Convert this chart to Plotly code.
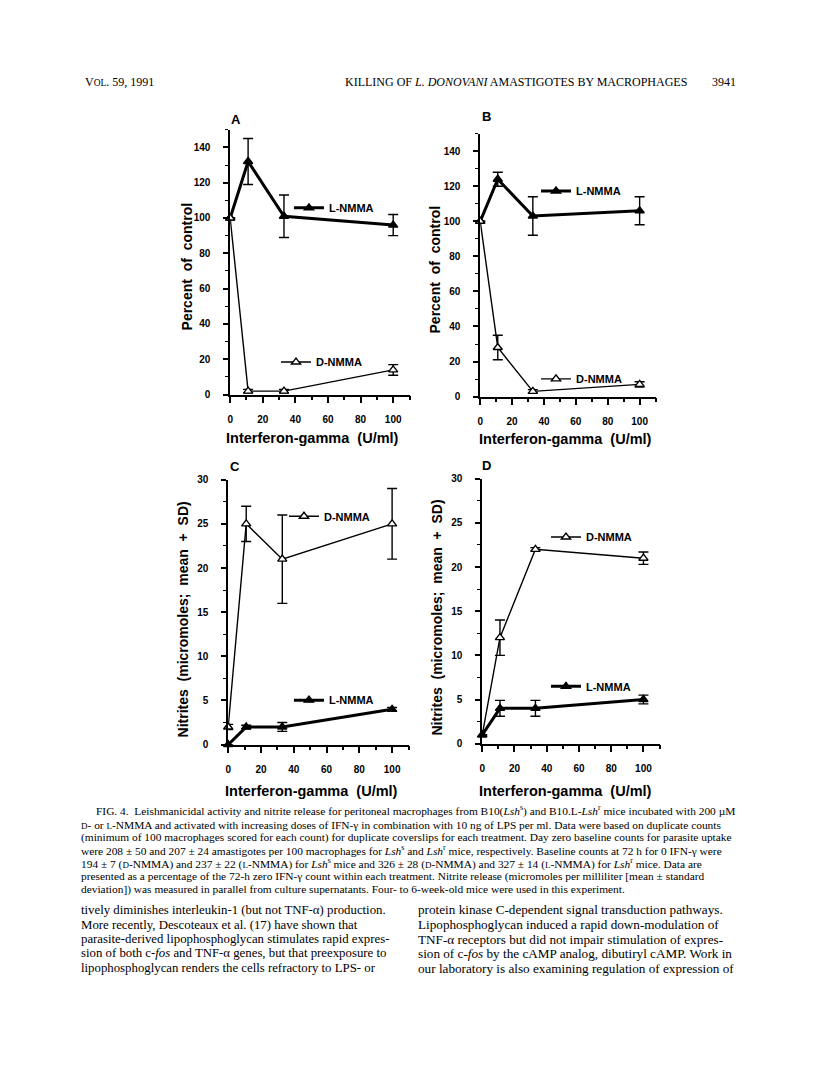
import plotly.graph_objects as go

# the page body has an 8px margin: draw a figure 16px smaller and shift coordinates
PAGE_W, PAGE_H = 816, 1079
OFF = 8
W, H = PAGE_W - 2 * OFF, PAGE_H - 2 * OFF

# ---------------- data ----------------
ifn_dose = [0, 11, 33, 100]

a_lnmma = [100, 132, 101, 96]
a_lnmma_sd = [0, 13, 12, 6]
a_dnmma = [100, 2, 2, 14]
a_dnmma_sd = [0, 1, 1, 3]

b_lnmma = [100, 124, 103, 106]
b_lnmma_sd = [0, 4, 11, 8]
b_dnmma = [100, 28, 3, 7]
b_dnmma_sd = [0, 7, 1, 1.5]

c_dnmma = [2, 25, 21, 25]
c_dnmma_sd = [0.3, 2, 5, 4]
c_lnmma = [0, 2, 2, 4]
c_lnmma_sd = [0, 0.2, 0.5, 0.2]

d_dnmma = [1, 12, 22, 21]
d_dnmma_sd = [0, 2, 0.2, 0.7]
d_lnmma = [1, 4, 4, 5]
d_lnmma_sd = [0, 0.9, 0.9, 0.5]

x_ticks = [0, 20, 40, 60, 80, 100]
pct_ticks = [0, 20, 40, 60, 80, 100, 120, 140]
nit_ticks = [0, 5, 10, 15, 20, 25, 30]

panel_letters = ["A", "B", "C", "D"]
y_title_pct = "Percent  of  control"
y_title_nit = "Nitrites  (micromoles;  mean  +  SD)"
x_title = "Interferon-gamma  (U/ml)"

# ---------------- helpers ----------------
def fx(p):
    return (p - OFF) / W


def fy(p):
    return 1 - (p - OFF) / H


BOLD = dict(family="Liberation Sans, Arial, sans-serif", color="black", weight="bold")
SERIF = "Liberation Serif, Times New Roman, serif"

fig = go.Figure()


def add_series(xa, ya, yvals, sd, name, filled, legend):
    fig.add_trace(go.Scatter(
        x=ifn_dose, y=yvals, name=name, xaxis=xa, yaxis=ya,
        mode="lines+markers", legend=legend, showlegend=True,
        line=dict(color="black", width=3 if filled else 1.4),
        marker=dict(symbol="triangle-up", size=8,
                    color="black" if filled else "white",
                    line=dict(color="black", width=1.4)),
        error_y=dict(type="data", array=sd, visible=True, color="black",
                     thickness=1.4, width=5),
        cliponaxis=False,
    ))


add_series("x", "y", a_lnmma, a_lnmma_sd, "L-NMMA", True, "legend")
add_series("x", "y", a_dnmma, a_dnmma_sd, "D-NMMA", False, "legend2")
add_series("x2", "y2", b_lnmma, b_lnmma_sd, "L-NMMA", True, "legend3")
add_series("x2", "y2", b_dnmma, b_dnmma_sd, "D-NMMA", False, "legend4")
add_series("x3", "y3", c_dnmma, c_dnmma_sd, "D-NMMA", False, "legend5")
add_series("x3", "y3", c_lnmma, c_lnmma_sd, "L-NMMA", True, "legend6")
add_series("x4", "y4", d_dnmma, d_dnmma_sd, "D-NMMA", False, "legend7")
add_series("x4", "y4", d_lnmma, d_lnmma_sd, "L-NMMA", True, "legend8")

tickfont = dict(BOLD, size=10)


def xaxis_cfg(l, r, anchor):
    return dict(domain=[fx(l), fx(r)], range=[0, 110], anchor=anchor,
                showline=True, linecolor="black", linewidth=1.6,
                showgrid=False, zeroline=False,
                tickmode="array", tickvals=x_ticks, ticks="outside",
                ticklen=7, tickwidth=1.5, tickcolor="black",
                minor=dict(tickmode="linear", tick0=10, dtick=20, ticks="outside",
                           ticklen=4, tickwidth=1.5, tickcolor="black",
                           showgrid=False),
                tickfont=tickfont, ticklabelstandoff=8)


def yaxis_cfg(top, bot, anchor, rng, vals, minor_dt):
    return dict(domain=[fy(bot), fy(top)], range=rng, anchor=anchor,
                showline=True, linecolor="black", linewidth=1.6,
                showgrid=False, zeroline=False,
                tickmode="array", tickvals=vals, ticks="outside",
                ticklen=5, tickwidth=1.5, tickcolor="black",
                minor=dict(tickmode="linear", tick0=0, dtick=minor_dt, ticks="outside",
                           ticklen=3, tickwidth=1.3, tickcolor="black",
                           showgrid=False),
                tickfont=tickfont, ticklabelstandoff=11)


legend_common = dict(bgcolor="rgba(0,0,0,0)", borderwidth=0,
                     font=dict(BOLD, size=11), itemwidth=30,
                     xanchor="left", yanchor="middle", tracegroupgap=0)

# legend placement (text-start px, line y px)
legend_pos = {
    "legend": (327, 204),
    "legend2": (314, 360),
    "legend3": (575, 187),
    "legend4": (575, 377),
    "legend5": (322, 516),
    "legend6": (327, 702),
    "legend7": (585, 537),
    "legend8": (585, 688),
}
legends = {k: dict(legend_common, x=fx(v[0] - 40), y=fy(v[1])) for k, v in legend_pos.items()}

annotations = []


def ann(text, x, y, size, font=None, xanchor="center", angle=0, yanchor="middle"):
    f = dict(font or BOLD)
    f["size"] = size
    annotations.append(dict(text=text, x=fx(x), y=fy(y), xref="paper", yref="paper",
                            showarrow=False, xanchor=xanchor, yanchor=yanchor,
                            textangle=angle, font=f))


# panel letters
for letter, (lx, ly) in zip(panel_letters, [(234, 115), (485, 112), (233, 466), (485, 465)]):
    ann(letter, lx, ly, 13)

# axis titles
ann(y_title_pct, 185, 263, 14, angle=-90)
ann(y_title_pct, 434, 266, 14, angle=-90)
ann(y_title_nit, 181, 620, 14, angle=-90)
ann(y_title_nit, 436, 618, 14, angle=-90)
ann(x_title, 311, 437, 14.5)
ann(x_title, 565, 438, 14.5)
ann(x_title, 310, 794, 14.5)
ann(x_title, 565, 794, 14.5)

# page header
SER = dict(family=SERIF, color="black")
ann("V<span style='font-size:9.5px'>OL</span>. 59, 1991", 80, 77, 12, SER, xanchor="left")
ann("KILLING OF <i>L. DONOVANI</i> AMASTIGOTES BY MACROPHAGES", 689, 77, 12, SER, xanchor="right")
ann("3941", 738, 77, 12, SER, xanchor="right")

sc = lambda s: "<span style='font-size:9px'>" + s + "</span>"
caption = [
    (91, "FIG. 4.  Leishmanicidal activity and nitrite release for peritoneal macrophages from B10(<i>Lsh</i><sup>s</sup>) and B10.L-<i>Lsh</i><sup>r</sup> mice incubated with 200 µM"),
    (76, sc("D") + "- or " + sc("L") + "-NMMA and activated with increasing doses of IFN-γ in combination with 10 ng of LPS per ml. Data were based on duplicate counts"),
    (76, "(minimum of 100 macrophages scored for each count) for duplicate coverslips for each treatment. Day zero baseline counts for parasite uptake"),
    (76, "were 208 ± 50 and 207 ± 24 amastigotes per 100 macrophages for <i>Lsh</i><sup>s</sup> and <i>Lsh</i><sup>r</sup> mice, respectively. Baseline counts at 72 h for 0 IFN-γ were"),
    (76, "194 ± 7 (" + sc("D") + "-NMMA) and 237 ± 22 (" + sc("L") + "-NMMA) for <i>Lsh</i><sup>s</sup> mice and 326 ± 28 (" + sc("D") + "-NMMA) and 327 ± 14 (" + sc("L") + "-NMMA) for <i>Lsh</i><sup>r</sup> mice. Data are"),
    (76, "presented as a percentage of the 72-h zero IFN-γ count within each treatment. Nitrite release (micromoles per milliliter [mean ± standard"),
    (76, "deviation]) was measured in parallel from culture supernatants. Four- to 6-week-old mice were used in this experiment."),
]
cap_y = [814, 828, 841, 854, 867, 880, 893]
for (cx, line), cy in zip(caption, cap_y):
    ann(line, cx, cy, 11.4, SER, xanchor="left")

body_left = [
    "tively diminishes interleukin-1 (but not TNF-α) production.",
    "More recently, Descoteaux et al. (17) have shown that",
    "parasite-derived lipophosphoglycan stimulates rapid expres-",
    "sion of both c-<i>fos</i> and TNF-α genes, but that preexposure to",
    "lipophosphoglycan renders the cells refractory to LPS- or",
]
body_right = [
    "protein kinase C-dependent signal transduction pathways.",
    "Lipophosphoglycan induced a rapid down-modulation of",
    "TNF-α receptors but did not impair stimulation of expres-",
    "sion of c-<i>fos</i> by the cAMP analog, dibutiryl cAMP. Work in",
    "our laboratory is also examining regulation of expression of",
]
body_y = [914, 929, 944, 958, 973]
for line, by in zip(body_left, body_y):
    ann(line, 76, by, 12.8, SER, xanchor="left")
for line, by in zip(body_right, body_y):
    ann(line, 415, by, 13.2, SER, xanchor="left")

fig.update_layout(
    width=W, height=H, margin=dict(l=0, r=0, t=0, b=0),
    paper_bgcolor="white", plot_bgcolor="white",
    xaxis=xaxis_cfg(228, 408, "y"),
    yaxis=yaxis_cfg(125, 393, "x", [0, 150], pct_ticks, 10),
    xaxis2=xaxis_cfg(479, 655, "y2"),
    yaxis2=yaxis_cfg(129, 395, "x2", [0, 150], pct_ticks, 10),
    xaxis3=xaxis_cfg(226, 407, "y3"),
    yaxis3=yaxis_cfg(479, 747, "x3", [0, 30], nit_ticks, 2.5),
    xaxis4=xaxis_cfg(481, 659, "y4"),
    yaxis4=yaxis_cfg(478, 746, "x4", [0, 30], nit_ticks, 2.5),
    annotations=annotations,
    **legends,
)

fig.write_html("out.html")
